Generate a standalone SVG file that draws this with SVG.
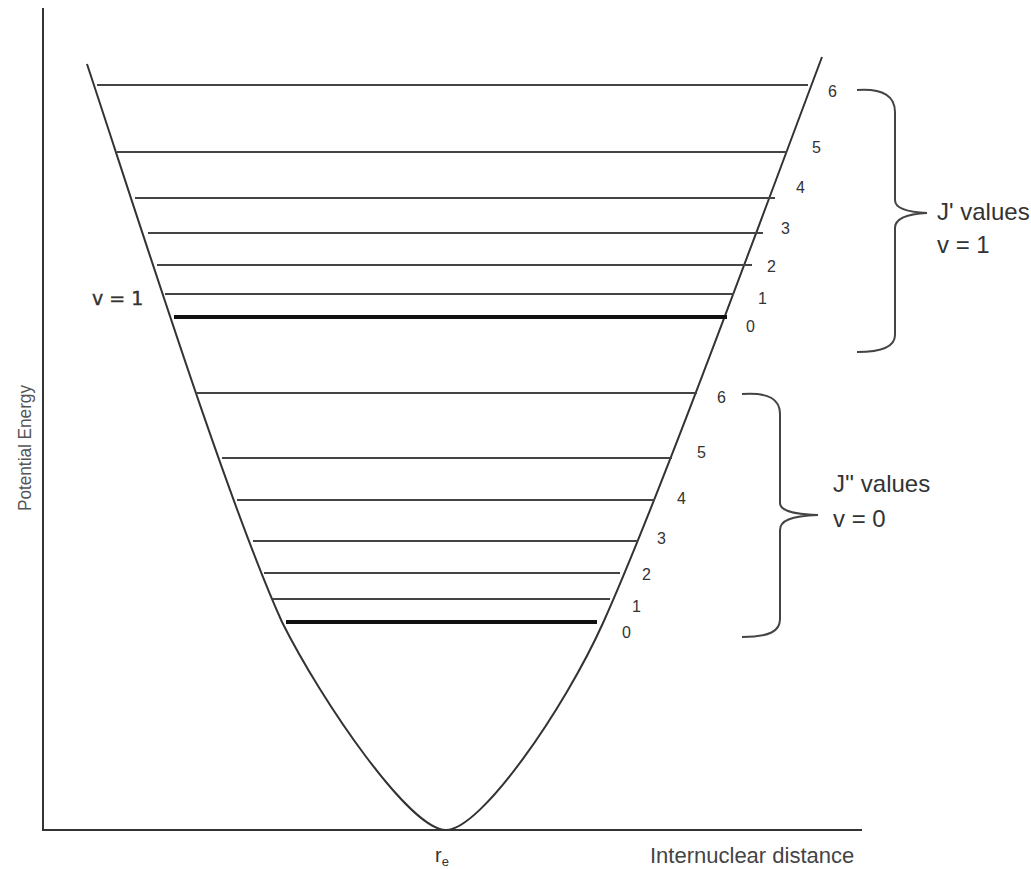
<svg xmlns="http://www.w3.org/2000/svg" width="1031" height="869" viewBox="0 0 1031 869">
<style>
.ax{stroke:#333;stroke-width:2;fill:none}
.curve{stroke:#333;stroke-width:2;fill:none}
.lvl{stroke:#444;stroke-width:2;fill:none}
.lvl0{stroke:#111;stroke-width:4;fill:none}
.brace{stroke:#444;stroke-width:2;fill:none}
.num{font-family:"Liberation Sans",Arial,sans-serif;font-size:16px;fill:#333}
.lbl{font-family:"Liberation Sans",Arial,sans-serif;font-size:24px;fill:#333}
.axl{font-family:"Liberation Sans",Arial,sans-serif;font-size:22px;fill:#444}
</style>
<rect width="1031" height="869" fill="#fff"/>
<g id="axes">
<line class="ax" x1="43" y1="8" x2="43" y2="830"/>
<line class="ax" x1="42" y1="830" x2="862" y2="830"/>
</g>
<g id="potential-curve">
<path class="curve" d="M87,64 C146.4,244 228,502 282,622 C322,702 410,830 446,830 C481,830 564.75,708 603,623 C657,503 765.6,207 822,57"/>
</g>
<g id="levels-v1">
<line class="lvl" x1="97" y1="85" x2="808" y2="85"/>
<line class="lvl" x1="117" y1="152" x2="787" y2="152"/>
<line class="lvl" x1="135" y1="198" x2="775" y2="198"/>
<line class="lvl" x1="148" y1="233" x2="763" y2="233"/>
<line class="lvl" x1="157" y1="265" x2="752" y2="265"/>
<line class="lvl" x1="165" y1="294" x2="734" y2="294"/>
<line class="lvl0" x1="174" y1="317" x2="727" y2="317"/>
</g>
<g id="levels-v0">
<line class="lvl" x1="196" y1="393" x2="697" y2="393"/>
<line class="lvl" x1="222" y1="458" x2="672" y2="458"/>
<line class="lvl" x1="237" y1="500" x2="655" y2="500"/>
<line class="lvl" x1="253" y1="541" x2="638" y2="541"/>
<line class="lvl" x1="264" y1="573" x2="620" y2="573"/>
<line class="lvl" x1="273" y1="599" x2="610" y2="599"/>
<line class="lvl0" x1="286" y1="622" x2="597" y2="622"/>
</g>
<g id="labels-v1">
<text class="num" x="828" y="97">6</text>
<text class="num" x="812" y="153">5</text>
<text class="num" x="796" y="193">4</text>
<text class="num" x="781" y="234">3</text>
<text class="num" x="767" y="272">2</text>
<text class="num" x="758" y="304">1</text>
<text class="num" x="746" y="332">0</text>
</g>
<g id="labels-v0">
<text class="num" x="717" y="403">6</text>
<text class="num" x="697" y="458">5</text>
<text class="num" x="677" y="504">4</text>
<text class="num" x="657" y="544">3</text>
<text class="num" x="642" y="580">2</text>
<text class="num" x="632" y="612">1</text>
<text class="num" x="622" y="638">0</text>
</g>
<g id="brace-v1">
<path class="brace" d="M857,90 C884,88 895,97 895,112 L895,200 C895,208 905,212 927,213 C905,214 895,219 895,228 L895,335 C895,346 884,352 857,352"/>
<text class="lbl" x="937" y="220">J' values</text>
<text class="lbl" x="937" y="253">v = 1</text>
</g>
<g id="brace-v0">
<path class="brace" d="M742,394 C770,392 780,400 780,414 L780,503 C780,510 790,514 818,515 C790,516 780,521 780,530 L780,619 C780,631 770,637 742,637"/>
<text class="lbl" x="833" y="492">J'' values</text>
<text class="lbl" x="833" y="527">v = 0</text>
</g>
<g id="v1-left">
<text x="92" y="305" font-family="DejaVu Sans, sans-serif" font-size="19" fill="#333" stroke="#333" stroke-width="0.4">v = 1</text>
</g>
<g id="axis-labels">
<text class="axl" x="650" y="863">Internuclear distance</text>
<text x="435" y="862" font-family="Liberation Sans, Arial, sans-serif" font-size="20" fill="#333">r<tspan font-size="13" dy="4">e</tspan></text>
<text transform="translate(31,448) rotate(-90)" text-anchor="middle" font-family="Liberation Sans, Arial, sans-serif" font-size="18" fill="#555" textLength="126" lengthAdjust="spacingAndGlyphs">Potential Energy</text>
</g>
</svg>
